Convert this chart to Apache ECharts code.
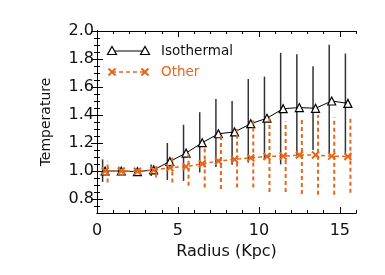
<!DOCTYPE html>
<html>
<head>
<meta charset="utf-8">
<script src="https://cdn.jsdelivr.net/npm/echarts@6/dist/echarts.min.js"></script>
<style>html,body{margin:0;padding:0;background:#fff}#c{width:385px;height:275px}</style>
</head>
<body>
<div id="c"></div>
<script>
// ---- data ----
var radius = [0.5,1.5,2.5,3.5,4.5,5.5,6.5,7.5,8.5,9.5,10.5,11.5,12.5,13.5,14.5,15.5];
var isoVal = [1.00,1.00,0.995,1.008,1.068,1.128,1.202,1.266,1.279,1.338,1.377,1.445,1.453,1.448,1.500,1.483];
var isoHi  = [1.083,1.03,1.02,1.047,1.200,1.330,1.420,1.514,1.500,1.657,1.674,1.844,1.834,1.749,1.902,1.839];
var isoLo  = [0.922,0.97,0.975,0.965,0.936,0.929,0.989,1.028,1.045,1.060,1.080,1.047,1.110,1.150,1.120,1.120];
var othVal = [1.00,1.00,0.998,1.006,1.024,1.031,1.052,1.071,1.083,1.094,1.104,1.106,1.114,1.114,1.106,1.104];
var othHi  = [1.071,1.02,1.015,1.035,1.118,1.125,1.180,1.250,1.300,1.360,1.377,1.353,1.365,1.400,1.384,1.377];
var othLo  = [0.918,0.98,0.982,0.953,0.918,0.894,0.883,0.871,0.883,0.883,0.850,0.850,0.835,0.830,0.830,0.845];
var xMajor = [0,5,10,15];
var xMinor = [1,2,3,4,6,7,8,9,11,12,13,14,16];
var yMajor = [0.8,1.0,1.2,1.4,1.6,1.8,2.0];
var yMinor = [0.75,0.85,0.9,0.95,1.05,1.1,1.15,1.25,1.3,1.35,1.45,1.5,1.55,1.65,1.7,1.75,1.85,1.9,1.95];
var seriesNames = ['Isothermal','Other'];
var xTitle = 'Radius (Kpc)';
var yTitle = 'Temperature';

var ORANGE = '#e4671d';
var FONT = 'DejaVu Sans';
var TXT = '#111';

function pairs(v){ return radius.map(function(x,i){return [x, v[i]];}); }
function bars(lo,hi){ return radius.map(function(x,i){return [x, lo[i], hi[i]];}); }

function errRender(dx, style){
  return function(params, api){
    var x = api.value(0);
    var p1 = api.coord([x, api.value(1)]);
    var p2 = api.coord([x, api.value(2)]);
    return {type:'line', shape:{x1:p1[0]+dx, y1:p1[1], x2:p2[0]+dx, y2:p2[1]}, style:style};
  };
}

function xAx(pos, vals, len, labels){
  return {type:'value', min:0, max:16, position:pos,
    axisLine:{show:true, lineStyle:{color:'#000', width:1}},
    splitLine:{show:false},
    axisTick:{show:true, inside:true, length:len, customValues:vals, lineStyle:{color:'#000', width:1}},
    axisLabel:labels ? {show:true, customValues:xMajor, margin:10, color:TXT, fontFamily:FONT, fontSize:16} : {show:false}
  };
}
function yAx(pos, vals, len, labels){
  return {type:'value', min:0.7, max:2.0, position:pos,
    axisLine:{show:true, lineStyle:{color:'#000', width:1}},
    splitLine:{show:false},
    axisTick:{show:true, inside:true, length:len, customValues:vals, lineStyle:{color:'#000', width:1}},
    axisLabel:labels ? {show:true, customValues:yMajor, margin:3, color:TXT, fontFamily:FONT, fontSize:16,
      formatter:function(v){return v.toFixed(1);}} : {show:false}
  };
}

var xAxes = [xAx('bottom', xMajor, 6, true), xAx('bottom', xMinor, 3, false), xAx('top', xMajor, 6, false), xAx('top', xMinor, 3, false)];
xAxes[0].name = xTitle; xAxes[0].nameLocation='middle'; xAxes[0].nameGap=30;
xAxes[0].nameTextStyle = {color:TXT, fontFamily:FONT, fontSize:16};
var yAxes = [yAx('left', yMajor, 6, true), yAx('left', yMinor, 3, false), yAx('right', yMajor, 6, false), yAx('right', yMinor, 3, false)];
yAxes[0].name = yTitle; yAxes[0].nameLocation='middle'; yAxes[0].nameGap=44;
yAxes[0].nameTextStyle = {color:TXT, fontFamily:FONT, fontSize:14};

function xMark(cx, cy){
  return [
    {type:'line', shape:{x1:cx-3.5, y1:cy-3.5, x2:cx+3.5, y2:cy+3.5}, style:{stroke:ORANGE, lineWidth:2}},
    {type:'line', shape:{x1:cx+3.5, y1:cy-3.5, x2:cx-3.5, y2:cy+3.5}, style:{stroke:ORANGE, lineWidth:2}}
  ];
}

var graphics = [
  {type:'line', shape:{x1:112, y1:51, x2:145, y2:51}, style:{stroke:'#000', lineWidth:1}},
  {type:'polygon', shape:{points:[[107.5,54.5],[116.5,54.5],[112,46.5]]}, style:{fill:'#fff', stroke:'#000', lineWidth:1.2}},
  {type:'polygon', shape:{points:[[140.5,54.5],[149.5,54.5],[145,46.5]]}, style:{fill:'#fff', stroke:'#000', lineWidth:1.2}},
  {type:'text', x:161, y:51, style:{text:seriesNames[0], fill:TXT, font:'13.5px "DejaVu Sans"', verticalAlign:'middle'}},
  {type:'line', shape:{x1:112, y1:72, x2:145, y2:72}, style:{stroke:ORANGE, lineWidth:1.5, lineDash:[4,3]}},
  {type:'text', x:161, y:72, style:{text:seriesNames[1], fill:ORANGE, font:'13.5px "DejaVu Sans"', verticalAlign:'middle'}}
].concat(xMark(112,72), xMark(145,72));

var chart = echarts.init(document.getElementById('c'), null, {renderer:'canvas'});
chart.setOption({
  animation:false,
  backgroundColor:'#fff',
  grid:{left:97, right:29, top:31, bottom:62, containLabel:false},
  xAxis:xAxes,
  yAxis:yAxes,
  series:[
    {type:'custom', name:seriesNames[0]+' err', data:bars(isoLo,isoHi), xAxisIndex:0, yAxisIndex:0, z:2,
      renderItem:errRender(-2.5, {stroke:'#333', lineWidth:1.5})},
    {type:'line', name:seriesNames[0], data:pairs(isoVal), xAxisIndex:0, yAxisIndex:0, z:3,
      symbol:'triangle', symbolSize:8, showAllSymbol:true,
      lineStyle:{color:'#000', width:1},
      itemStyle:{color:'#fff', borderColor:'#000', borderWidth:1.2}},
    {type:'custom', name:seriesNames[1]+' err', data:bars(othLo,othHi), xAxisIndex:0, yAxisIndex:0, z:4,
      renderItem:errRender(2.5, {stroke:ORANGE, lineWidth:2, lineDash:[4,3]})},
    {type:'line', name:seriesNames[1], data:pairs(othVal), xAxisIndex:0, yAxisIndex:0, z:5,
      symbol:'path://M0,0L10,10M10,0L0,10', symbolSize:7, showAllSymbol:true,
      lineStyle:{color:ORANGE, width:1.5, type:[4,3]},
      itemStyle:{color:'none', borderColor:ORANGE, borderWidth:2}}
  ],
  graphic:graphics
});
</script>
</body>
</html>
